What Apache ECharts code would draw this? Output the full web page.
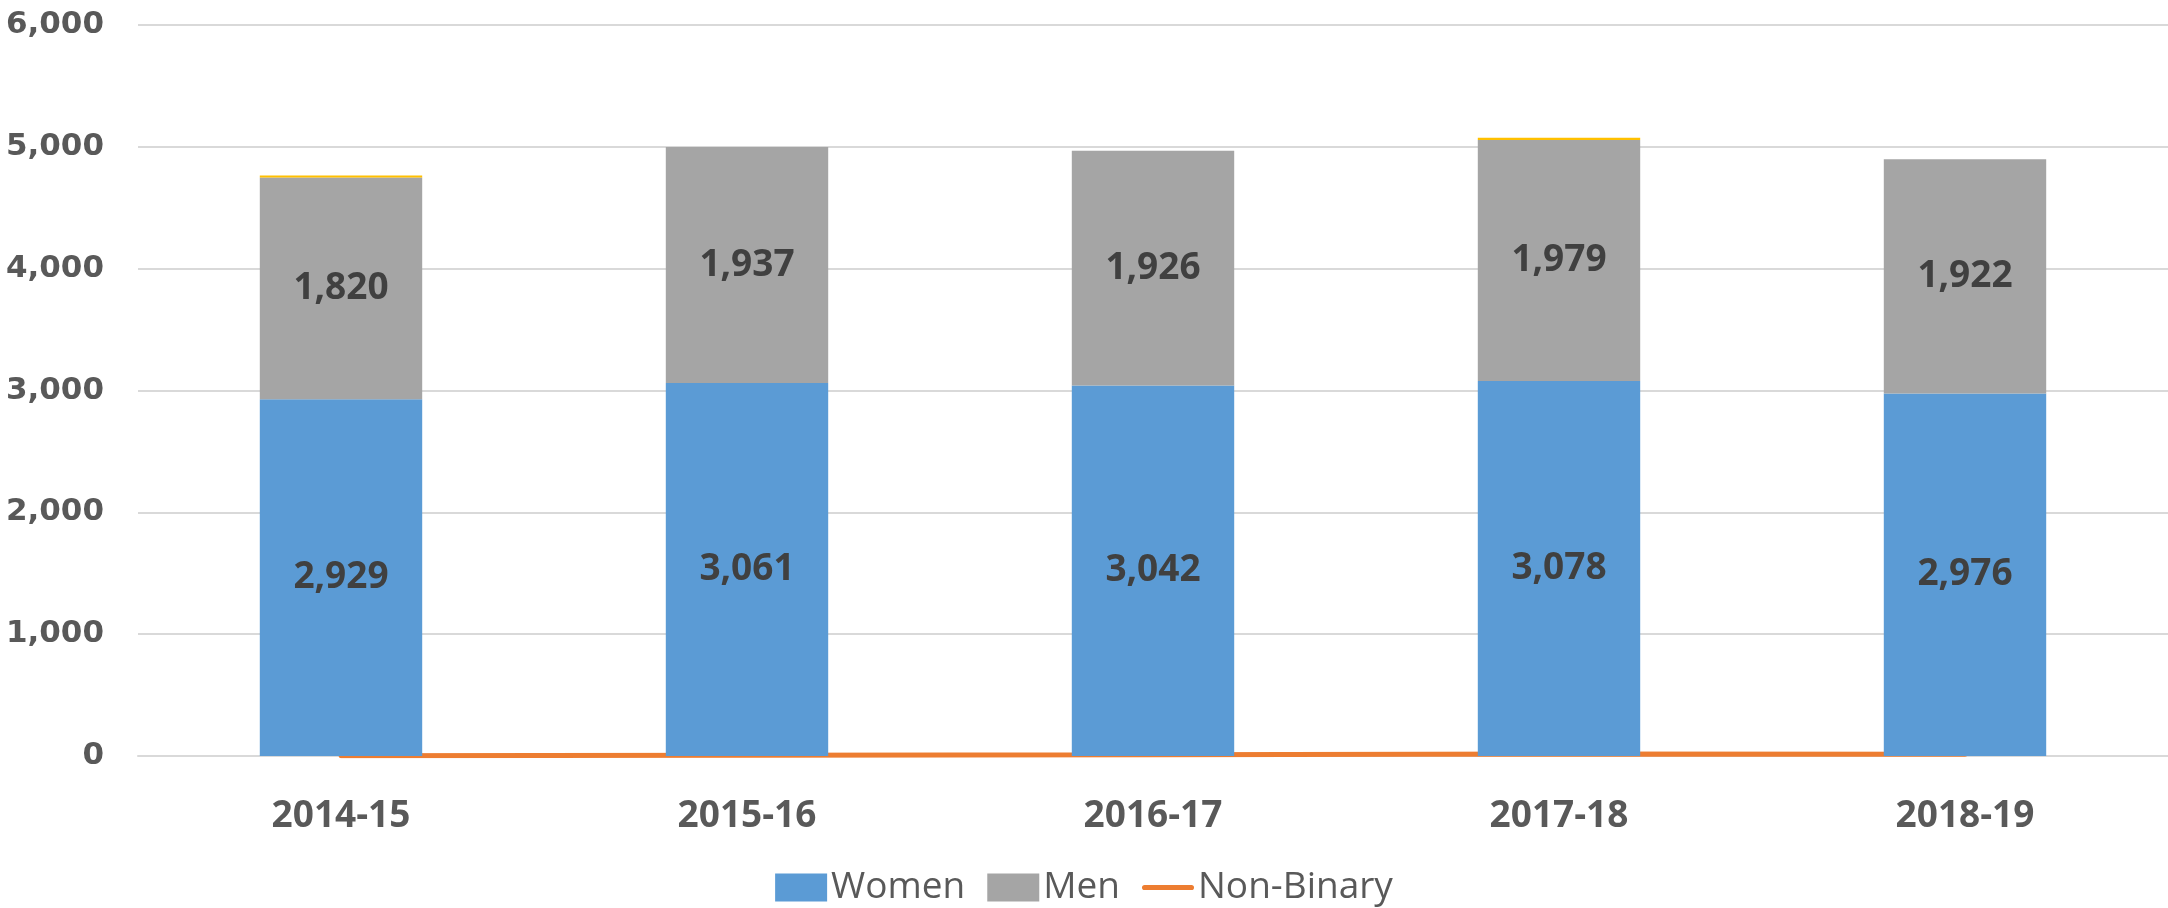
<!DOCTYPE html>
<html>
<head>
<meta charset="utf-8">
<script src="https://cdn.jsdelivr.net/npm/echarts@6/dist/echarts.min.js"></script>
<style>
  html, body { margin: 0; padding: 0; background: #fff; }
  #chart { width: 2168px; height: 908px; }
</style>
</head>
<body>
<div id="chart"></div>
<script>
const years = ['2014-15', '2015-16', '2016-17', '2017-18', '2018-19'];
const women = [2929, 3061, 3042, 3078, 2976];
const men = [1820, 1937, 1926, 1979, 1922];
const unknown = [15, 0, 0, 18, 0];
const nonBinary = [3, 7, 11, 17, 15];

const fmt = (p) => p.value.toLocaleString('en-US');
const segLabel = {
  show: true,
  position: 'inside',
  formatter: fmt,
  fontFamily: 'Open Sans',
  fontWeight: 'bold',
  fontSize: 37,
  color: '#404040',
};

const chart = echarts.init(document.getElementById('chart'));
chart.setOption({
  animation: false,
  grid: { left: 138, right: 0, top: 25, bottom: 152, containLabel: false },
  legend: {
    bottom: -3,
    left: 'center',
    itemWidth: 52,
    itemHeight: 28,
    itemGap: 22,
    textStyle: { fontFamily: 'Open Sans', fontSize: 37, color: '#595959', padding: [0, 0, 0, -1] },
    data: [
      { name: 'Women', icon: 'rect' },
      { name: 'Men', icon: 'rect' },
      { name: 'Non-Binary', icon: 'path://M3,0 H57 A3,3 0 0 1 57,6 H3 A3,3 0 0 1 3,0 Z' },
    ],
  },
  xAxis: {
    type: 'category',
    data: years,
    axisLine: { lineStyle: { color: '#D9D9D9', width: 2 } },
    axisTick: { show: false },
    axisLabel: {
      margin: 42,
      fontFamily: 'Open Sans',
      fontWeight: 'bold',
      fontSize: 37,
      color: '#595959',
    },
  },
  yAxis: {
    type: 'value',
    min: 0,
    max: 6000,
    interval: 1000,
    axisLine: { show: false },
    axisTick: { show: false },
    splitLine: { lineStyle: { color: '#D9D9D9', width: 2 } },
    axisLabel: {
      margin: 34,
      formatter: (v) => v.toLocaleString('en-US'),
      fontFamily: 'DejaVu Sans',
      fontWeight: 'bold',
      fontSize: 31,
      color: '#595959',
    },
  },
  series: [
    {
      name: 'Non-Binary',
      type: 'line',
      data: nonBinary,
      symbol: 'none',
      z: 1,
      lineStyle: { color: '#ED7D31', width: 5, cap: 'round' },
      itemStyle: { color: '#ED7D31' },
    },
    {
      name: 'Women',
      type: 'bar',
      stack: 'total',
      barWidth: '40%',
      data: women,
      z: 3,
      itemStyle: { color: '#5B9BD5' },
      label: segLabel,
    },
    {
      name: 'Men',
      type: 'bar',
      stack: 'total',
      barWidth: '40%',
      data: men,
      z: 3,
      itemStyle: { color: '#A5A5A5' },
      label: segLabel,
    },
    {
      name: 'Unknown',
      type: 'bar',
      stack: 'total',
      barWidth: '40%',
      data: unknown,
      z: 3,
      itemStyle: { color: '#FFC000' },
    },
  ],
});
</script>
</body>
</html>
